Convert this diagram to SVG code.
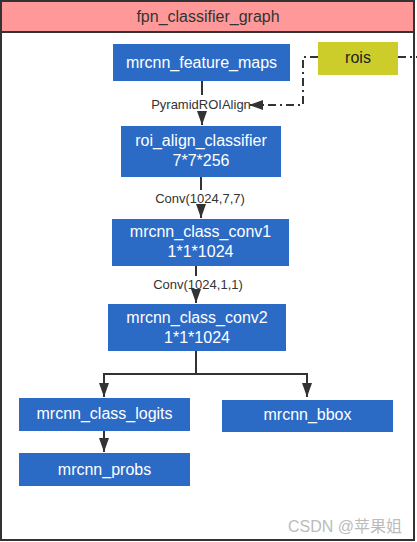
<svg xmlns="http://www.w3.org/2000/svg" width="417" height="542" viewBox="0 0 417 542">
<style>
.node{fill:#2B6BC6;}
.nt{fill:#FFFFFF;font-family:"Liberation Sans",Arial,sans-serif;font-size:16px;text-anchor:middle;}
.lbl{fill:#333333;font-family:"Liberation Sans",Arial,sans-serif;font-size:13px;text-anchor:middle;}
.edge{stroke:#333333;stroke-width:2;fill:none;}
.dash{stroke:#333333;stroke-width:2;fill:none;stroke-dasharray:8 4 2 4;}
</style>
<defs>
<marker id="arr" viewBox="0 0 14 10" refX="14" refY="5" markerWidth="7" markerHeight="5" markerUnits="strokeWidth" orient="auto">
<path d="M0,0 L14,5 L0,10 z" fill="#333333"/>
</marker>
</defs>
<rect x="0" y="0" width="417" height="542" fill="#FFFFFF"/>
<g id="frame">
<rect x="1" y="1" width="413" height="539" fill="#FFFFFF" stroke="#333333" stroke-width="2"/>
<rect x="1" y="1" width="413" height="31" fill="#FF9999" stroke="#333333" stroke-width="2"/>
<text x="208" y="22" fill="#333333" font-family="'Liberation Sans',Arial,sans-serif" font-size="16" text-anchor="middle">fpn_classifier_graph</text>
</g>
<g id="connectors">
<line class="edge" x1="202" y1="81" x2="202" y2="95"/>
<line class="edge" x1="202" y1="111" x2="202" y2="125" marker-end="url(#arr)"/>
<polyline class="dash" points="318,57 303,57 303,105 249,105" marker-end="url(#arr)"/>
<line class="dash" x1="398" y1="57" x2="417" y2="57"/>
<line class="edge" x1="201" y1="177" x2="201" y2="190"/>
<line class="edge" x1="201" y1="205" x2="201" y2="218" marker-end="url(#arr)"/>
<line class="edge" x1="196" y1="266" x2="196" y2="276"/>
<line class="edge" x1="196" y1="292" x2="196" y2="303" marker-end="url(#arr)"/>
<polyline class="edge" points="196,351 196,374 104,374 104,397" marker-end="url(#arr)"/>
<polyline class="edge" points="196,374 307,374 307,397" marker-end="url(#arr)"/>
<line class="edge" x1="104" y1="431" x2="104" y2="452" marker-end="url(#arr)"/>
<text class="lbl" x="201" y="109">PyramidROIAlign</text>
<text class="lbl" x="200" y="203">Conv(1024,7,7)</text>
<text class="lbl" x="198" y="289">Conv(1024,1,1)</text>
</g>
<g id="mrcnn_feature_maps">
<rect class="node" x="113" y="44" width="177" height="37"/>
<text class="nt" x="201.5" y="68">mrcnn_feature_maps</text>
</g>
<g id="rois">
<rect x="318" y="42" width="80" height="33" fill="#CCCC2A"/>
<text x="358" y="63" fill="#222222" font-family="'Liberation Sans',Arial,sans-serif" font-size="16" text-anchor="middle">rois</text>
</g>
<g id="roi_align_classifier">
<rect class="node" x="121" y="126" width="160" height="51"/>
<text class="nt" x="201" y="146">roi_align_classifier</text>
<text class="nt" x="201" y="166">7*7*256</text>
</g>
<g id="mrcnn_class_conv1">
<rect class="node" x="112" y="219" width="177" height="47"/>
<text class="nt" x="200.5" y="237">mrcnn_class_conv1</text>
<text class="nt" x="200.5" y="257">1*1*1024</text>
</g>
<g id="mrcnn_class_conv2">
<rect class="node" x="108" y="304" width="178" height="47"/>
<text class="nt" x="197" y="323">mrcnn_class_conv2</text>
<text class="nt" x="197" y="343">1*1*1024</text>
</g>
<g id="mrcnn_class_logits">
<rect class="node" x="19" y="398" width="171" height="33"/>
<text class="nt" x="104.5" y="419">mrcnn_class_logits</text>
</g>
<g id="mrcnn_bbox">
<rect class="node" x="222" y="400" width="171" height="32"/>
<text class="nt" x="307.5" y="420">mrcnn_bbox</text>
</g>
<g id="mrcnn_probs">
<rect class="node" x="19" y="453" width="171" height="33"/>
<text class="nt" x="104.5" y="475">mrcnn_probs</text>
</g>
<text x="345" y="532" fill="#BBBBBB" font-family="'Liberation Sans','Noto Sans CJK SC',sans-serif" font-size="16" text-anchor="middle">CSDN @苹果姐</text>
</svg>
